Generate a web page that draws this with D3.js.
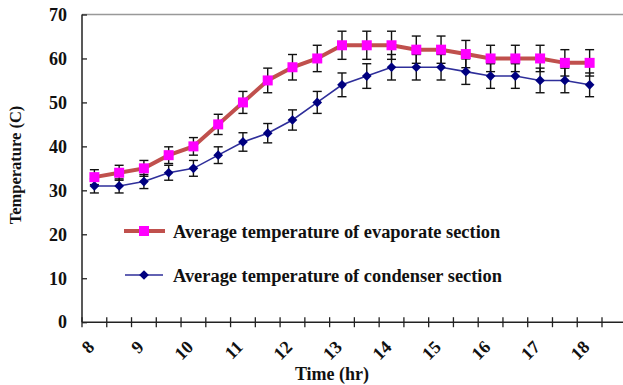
<!DOCTYPE html>
<html>
<head>
<meta charset="utf-8">
<script src="https://cdn.jsdelivr.net/npm/d3@7"></script>
<style>
  body { margin: 0; background: #fff; }
  svg text { font-family: 'Liberation Serif', serif; font-weight: bold; fill: #111; }
</style>
</head>
<body>
<div class="container"></div>
<script>
// chart data
var hours = ["8", "8.5", "9", "9.5", "10", "10.5", "11", "11.5", "12", "12.5", "13",
             "13.5", "14", "14.5", "15", "15.5", "16", "16.5", "17", "17.5", "18"];
var hourLabels = ["8", "", "9", "", "10", "", "11", "", "12", "", "13",
                  "", "14", "", "15", "", "16", "", "17", "", "18"];
var evaporate = [33, 34, 35, 38, 40, 45, 50, 55, 58, 60, 63, 63, 63, 62, 62, 61, 60, 60, 60, 59, 59];
var evaporateErr = [1.7, 1.7, 1.8, 1.9, 2, 2.3, 2.5, 2.8, 2.9, 3, 3.2, 3.2, 3.2, 3.1, 3.1, 3.1, 3, 3, 3, 3, 3];
var condenser = [31, 31, 32, 34, 35, 38, 41, 43, 46, 50, 54, 56, 58, 58, 58, 57, 56, 56, 55, 55, 54];
var condenserErr = [1.6, 1.6, 1.6, 1.7, 1.8, 1.9, 2.1, 2.2, 2.3, 2.5, 2.7, 2.8, 2.9, 2.9, 2.9, 2.9, 2.8, 2.8, 2.8, 2.8, 2.7];
var yTicks = [0, 10, 20, 30, 40, 50, 60, 70];
var legendNames = ["Average temperature of evaporate section", "Average temperature of condenser section"];

var W = 623, H = 385;
var margin = { left: 82, top: 14.5, right: 21, bottom: 63 };

var svg = d3.select(".container").append("svg")
    .attr("width", W)
    .attr("height", H);

var x = d3.scaleBand()
    .domain(hours)
    .range([margin.left, W - margin.right])
    .padding(0);

var y = d3.scaleLinear()
    .domain([0, 70])
    .range([H - margin.bottom + 0.2, margin.top]);

// top frame line
svg.append("line")
    .attr("x1", margin.left).attr("x2", W)
    .attr("y1", y(70)).attr("y2", y(70))
    .style("stroke", "#999").style("stroke-width", 1.5);

// y axis
var yAxis = svg.append("g")
    .attr("transform", "translate(" + margin.left + ",0)")
    .call(d3.axisLeft(y).tickValues(yTicks).tickSize(5).tickPadding(10));
yAxis.selectAll(".tick line").attr("x2", 5);
yAxis.select(".domain").remove();
yAxis.append("line")
    .attr("y1", y(0)).attr("y2", y(70))
    .style("stroke", "#222").style("stroke-width", 1.5);
yAxis.selectAll(".tick line").style("stroke", "#222").style("stroke-width", 1.3);
yAxis.selectAll("text").style("font-size", "18px").attr("fill", "#111");

// x axis, ticks at the category edges
var edges = hours.map(function (h) { return x(h); }).concat([x.range()[1]]);
var xg = svg.append("g");
xg.append("line")
    .attr("x1", margin.left).attr("x2", W)
    .attr("y1", y(0)).attr("y2", y(0))
    .style("stroke", "#222").style("stroke-width", 1.5);
xg.selectAll("line.tk")
    .data(edges)
    .enter().append("line")
    .attr("class", "tk")
    .attr("x1", function (d) { return d; }).attr("x2", function (d) { return d; })
    .attr("y1", y(0) - 5).attr("y2", y(0) + 5)
    .style("stroke", "#222").style("stroke-width", 1.3);
// labels: rotated -45, baseline end a little right of and below each category centre
xg.selectAll("text.xl")
    .data(hours)
    .enter().append("text")
    .attr("class", "xl")
    .attr("transform", function (d) {
      return "translate(" + (x(d) + x.bandwidth() / 2 + 1) + "," + (y(0) + 26) + ") rotate(-45)";
    })
    .attr("text-anchor", "end")
    .style("font-size", "18px")
    .text(function (d, i) { return hourLabels[i]; });

// titles
svg.append("text")
    .attr("transform", "translate(21,165) rotate(-90)")
    .attr("text-anchor", "middle")
    .style("font-size", "16.5px")
    .text("Temperature (C)");
svg.append("text")
    .attr("x", 332).attr("y", 380)
    .attr("text-anchor", "middle")
    .style("font-size", "18px")
    .text("Time (hr)");

// series
var cx = function (d, i) { return x(hours[i]) + x.bandwidth() / 2; };

function errBars(vals, errs) {
  var g = svg.append("g");
  g.selectAll("line.v").data(vals).enter().append("line")
    .attr("x1", cx).attr("x2", cx)
    .attr("y1", function (d, i) { return y(d + errs[i]); })
    .attr("y2", function (d, i) { return y(d - errs[i]); })
    .style("stroke", "#111").style("stroke-width", 1.4);
  [1, -1].forEach(function (s) {
    g.selectAll("line.c" + s).data(vals).enter().append("line")
      .attr("x1", function (d, i) { return cx(d, i) - 4.5; })
      .attr("x2", function (d, i) { return cx(d, i) + 4.5; })
      .attr("y1", function (d, i) { return y(d + s * errs[i]); })
      .attr("y2", function (d, i) { return y(d + s * errs[i]); })
      .style("stroke", "#111").style("stroke-width", 1.4);
  });
}

var line = d3.line().x(cx).y(function (d) { return y(d); });

errBars(condenser, condenserErr);
errBars(evaporate, evaporateErr);

svg.append("path").datum(condenser)
    .attr("d", line)
    .style("fill", "none").style("stroke", "#2e2e9a").style("stroke-width", 1.6);
svg.append("path").datum(evaporate)
    .attr("d", line)
    .style("fill", "none").style("stroke", "#c0504d").style("stroke-width", 4);

var diamond = d3.symbol().type(d3.symbolDiamond2).size(60);
svg.selectAll("path.dm").data(condenser).enter().append("path")
    .attr("class", "dm")
    .attr("d", diamond)
    .attr("transform", function (d, i) { return "translate(" + cx(d, i) + "," + y(d) + ")"; })
    .style("fill", "#000080");
svg.selectAll("rect.sq").data(evaporate).enter().append("rect")
    .attr("class", "sq")
    .attr("x", function (d, i) { return cx(d, i) - 5; })
    .attr("y", function (d) { return y(d) - 5; })
    .attr("width", 10).attr("height", 10)
    .style("fill", "#ff00ff");

// legend
var lg = svg.append("g");
var legY = [231, 275];
lg.append("line").attr("x1", 124).attr("x2", 165).attr("y1", legY[0]).attr("y2", legY[0])
    .style("stroke", "#c0504d").style("stroke-width", 4);
lg.append("rect").attr("x", 139).attr("y", legY[0] - 5).attr("width", 10).attr("height", 10)
    .style("fill", "#ff00ff");
lg.append("line").attr("x1", 125).attr("x2", 163).attr("y1", legY[1]).attr("y2", legY[1])
    .style("stroke", "#2e2e9a").style("stroke-width", 1.6);
lg.append("path").attr("d", diamond).attr("transform", "translate(144," + legY[1] + ")")
    .style("fill", "#000080");
lg.selectAll("text").data(legendNames).enter().append("text")
    .attr("x", 173)
    .attr("y", function (d, i) { return legY[i] + 1.5; })
    .attr("dy", "0.3em")
    .style("font-size", "18.4px")
    .text(function (d) { return d; });
</script>
</body>
</html>
